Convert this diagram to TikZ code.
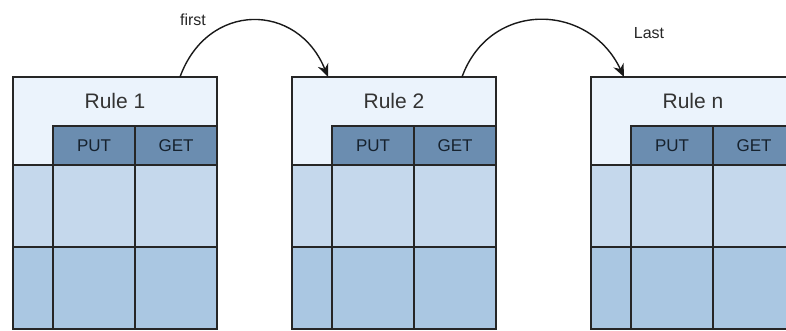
\documentclass[tikz,border=0pt]{standalone}
\usepackage{fontspec}
\setmainfont{Liberation Sans}
\usetikzlibrary{arrows.meta}
\definecolor{headfill}{HTML}{EBF3FC}
\definecolor{keyfill}{HTML}{6B8DB0}
\definecolor{midfill}{HTML}{C5D8EC}
\definecolor{lowfill}{HTML}{AAC7E2}
\definecolor{cellline}{HTML}{262626}
\definecolor{keytext}{HTML}{16222E}
\begin{document}
\begin{tikzpicture}[x=1pt, y=1pt,
    cell/.style = {draw=cellline, line width=1.5pt, anchor=south west, inner sep=0pt, outer sep=0pt},
    keycell/.style = {cell, fill=keyfill, text=keytext, font=\fontsize{17}{20}\selectfont},
    ruletitle/.style = {text=black!80, font=\fontsize{21}{24}\selectfont},
    linklabel/.style = {text=black!85, font=\fontsize{16}{19}\selectfont},
    link/.style = {->, >={Stealth[length=13pt, width=11pt]}, line width=1.4pt, draw=black!90}]
    \clip (0,0) rectangle (786,331);
    \foreach \x/\n in {13/1, 292/2, 591/n} {
        \node[cell, fill=headfill, minimum width=204pt, minimum height=88pt] (r\n head) at (\x,166) {};
        \node[ruletitle] (r\n title) at ([yshift=-24.5pt]r\n head.north) {Rule \n};
        \node[keycell, minimum width=82pt, minimum height=39pt] (r\n put) at (\x+40,166) {PUT};
        \node[keycell, minimum width=82pt, minimum height=39pt] (r\n get) at (\x+122,166) {GET};
        \foreach \ry/\rfill/\row in {84/midfill/mid, 2/lowfill/low}
            \foreach \cx/\cw [count=\c] in {0/40, 40/82, 122/82}
                \node[cell, fill=\rfill, minimum width=\cw pt, minimum height=82pt] (r\n\row\c) at (\x+\cx,\ry) {};
    }
    \draw[link] ([xshift=-37pt]r1head.north east) to[out=70, in=112, looseness=1.4] ([xshift=36pt]r2head.north west);
    \draw[link] ([xshift=-34pt]r2head.north east) to[out=70, in=115, looseness=1.3] ([xshift=33pt]rnhead.north west);
    \node[linklabel] (firstlab) at (193,311) {first};
    \node[linklabel] (lastlab) at (649,298) {Last};
\end{tikzpicture}
\end{document}
